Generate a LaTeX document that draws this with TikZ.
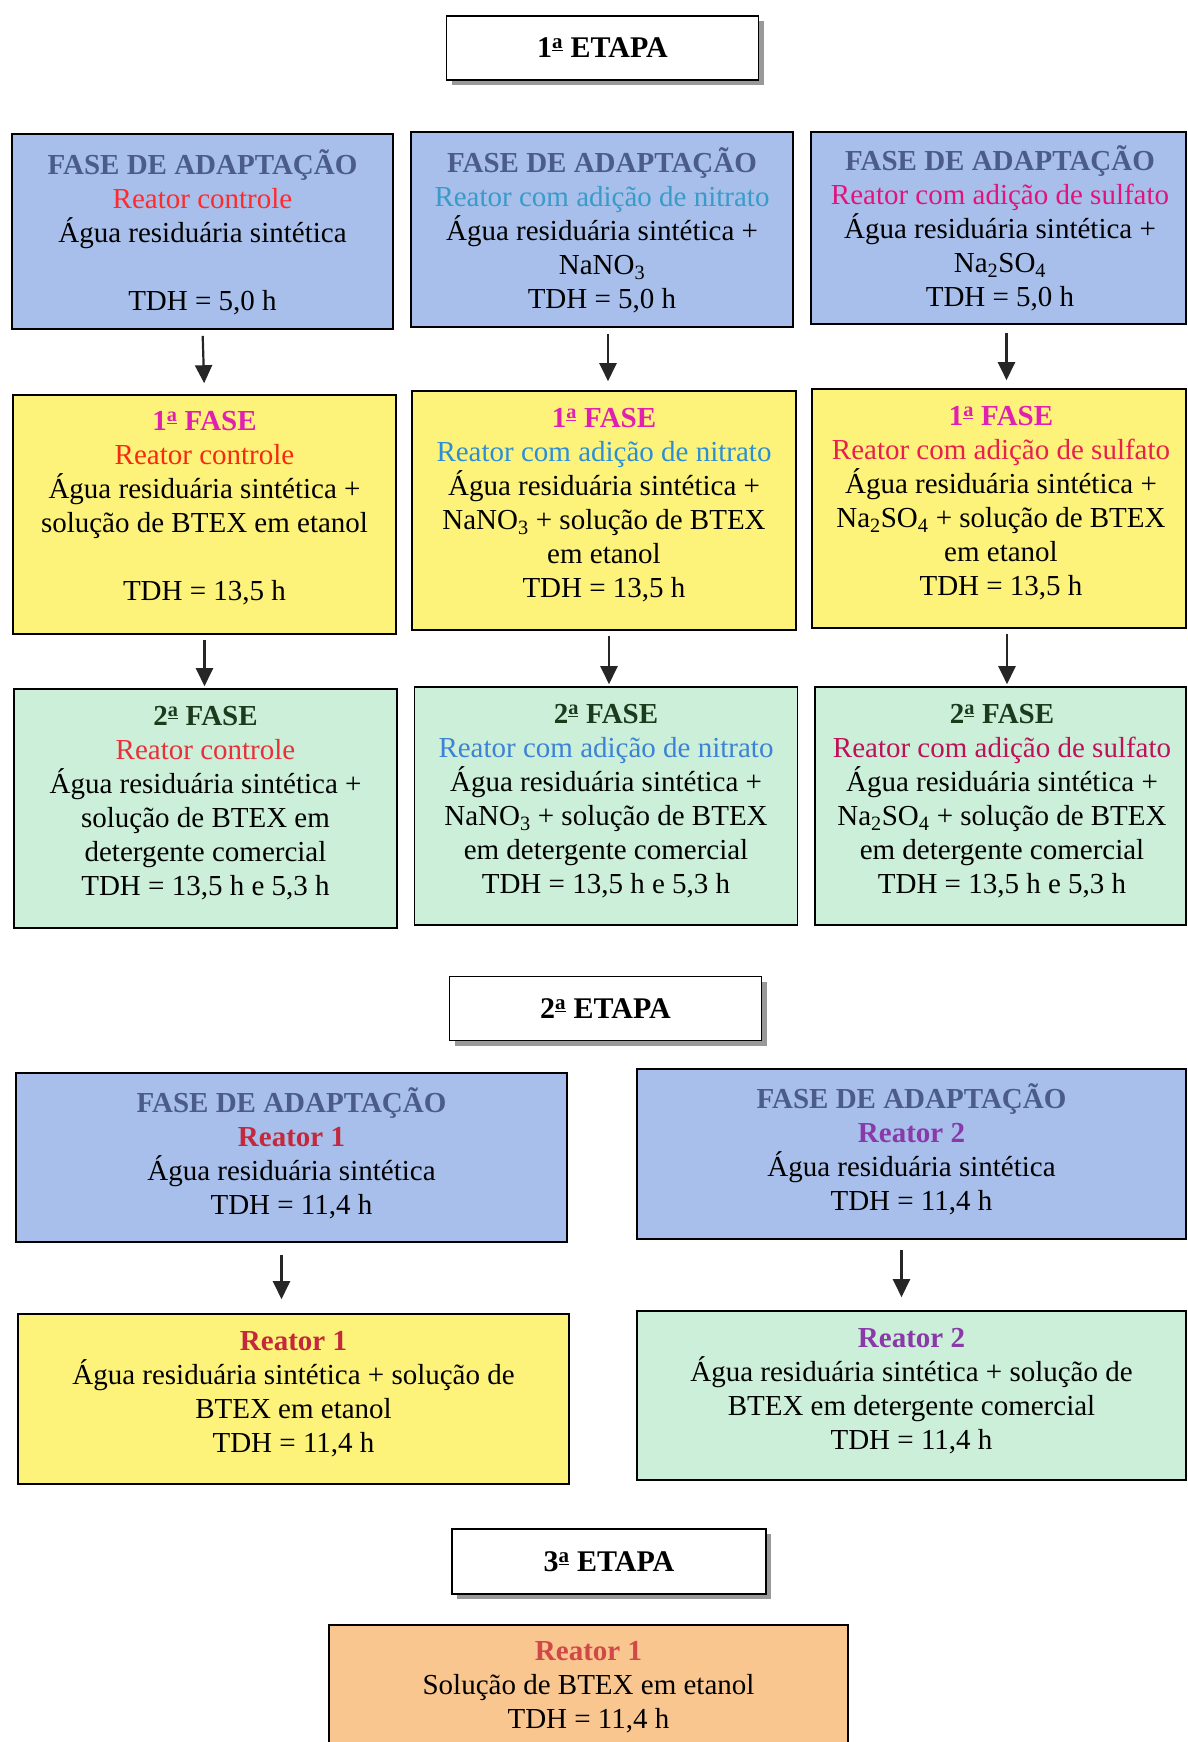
\documentclass[tikz,border=0pt]{standalone}
\usepackage{fontspec}
\setmainfont{Liberation Serif}
\usetikzlibrary{arrows.meta,shadows}
\definecolor{fblue}{HTML}{A7BFEA}
\definecolor{fyellow}{HTML}{FDF27A}
\definecolor{fgreen}{HTML}{CBEFD8}
\definecolor{forange}{HTML}{F8C68E}
\definecolor{hblue}{HTML}{4B5C8C}
\definecolor{redc}{HTML}{FF2A2A}
\definecolor{redy}{HTML}{F52A10}
\definecolor{redg}{HTML}{E8303A}
\definecolor{nitb}{HTML}{3A9AC8}
\definecolor{nity}{HTML}{2A8FD8}
\definecolor{nitg}{HTML}{3C82D6}
\definecolor{sulb}{HTML}{E0147A}
\definecolor{suly}{HTML}{E8204E}
\definecolor{sulg}{HTML}{C0105A}
\definecolor{magf}{HTML}{E020B0}
\definecolor{dgreen}{HTML}{1C3A1C}
\definecolor{reaone}{HTML}{C4283C}
\definecolor{reatwo}{HTML}{8A3AA8}
\definecolor{reaor}{HTML}{D04848}
\newcommand{\ordA}{\textsuperscript{\underline{a}}}
\begin{document}
\begin{tikzpicture}[x=1pt,y=-1pt,
  box/.style={draw=black,line width=1.6pt,inner sep=0pt},
  bluebox/.style={box,fill=fblue},
  yelbox/.style={box,fill=fyellow},
  grnbox/.style={box,fill=fgreen},
  orabox/.style={box,fill=forange},
  txt/.style={align=center,inner sep=0pt,font=\fontsize{29}{34}\selectfont},
  etapa/.style={draw=black,line width=1.8pt,fill=white,inner sep=0pt,
    minimum width=312pt,minimum height=64pt,
    font=\fontsize{30}{34}\selectfont\bfseries,
    drop shadow={shadow xshift=5pt,shadow yshift=-5pt,fill=black!40,opacity=1}},
  arr/.style={draw=black!85,line width=2.2pt,-{Triangle[length=18pt,width=17pt]}}
]
\clip (0,0) rectangle (1188,1742);
\fill[white] (0,0) rectangle (1188,1742);

% ---------- 1a ETAPA ----------
\node[etapa] (e1) at (602.5,48) {1\ordA{} ETAPA};

\node[bluebox,minimum width=381pt,minimum height=195pt] (bA) at (202.5,231.5) {};
\node[txt] (bAt) at (202.5,232) {\textbf{\textcolor{hblue}{FASE DE ADAPTAÇÃO}}\\ \textcolor{redc}{Reator controle}\\ Água residuária sintética\\[34pt] TDH = 5,0 h};

\node[bluebox,minimum width=382pt,minimum height=195pt] (bB) at (602,229.5) {};
\node[txt] (bBt) at (602,230) {\textbf{\textcolor{hblue}{FASE DE ADAPTAÇÃO}}\\ \textcolor{nitb}{Reator com adição de nitrato}\\ Água residuária sintética +\\ NaNO\textsubscript{3}\\ TDH = 5,0 h};

\node[bluebox,minimum width=375pt,minimum height=192pt] (bC) at (998.5,228) {};
\node[txt] (bCt) at (1000,228) {\textbf{\textcolor{hblue}{FASE DE ADAPTAÇÃO}}\\ \textcolor{sulb}{Reator com adição de sulfato}\\ Água residuária sintética +\\ Na\textsubscript{2}SO\textsubscript{4}\\ TDH = 5,0 h};

\node[yelbox,minimum width=383pt,minimum height=239pt] (yA) at (204.5,514.5) {};
\node[txt] (yAt) at (204.5,508) {\textbf{\textcolor{magf}{1\ordA{} FASE}}\\ \textcolor{redy}{Reator controle}\\ Água residuária sintética +\\ solução de BTEX em etanol\\[34pt] TDH = 13,5 h};

\node[yelbox,minimum width=384pt,minimum height=239pt] (yB) at (604,510.5) {};
\node[txt] (yBt) at (604,505) {\textbf{\textcolor{magf}{1\ordA{} FASE}}\\ \textcolor{nity}{Reator com adição de nitrato}\\ Água residuária sintética +\\ NaNO\textsubscript{3} + solução de BTEX\\ em etanol\\ TDH = 13,5 h};

\node[yelbox,minimum width=374pt,minimum height=239pt] (yC) at (999,508.5) {};
\node[txt] (yCt) at (1001,503) {\textbf{\textcolor{magf}{1\ordA{} FASE}}\\ \textcolor{suly}{Reator com adição de sulfato}\\ Água residuária sintética +\\ Na\textsubscript{2}SO\textsubscript{4} + solução de BTEX\\ em etanol\\ TDH = 13,5 h};

\node[grnbox,minimum width=383pt,minimum height=239pt] (gA) at (205.5,808.5) {};
\node[txt] (gAt) at (205.5,803) {\textbf{\textcolor{dgreen}{2\ordA{} FASE}}\\ \textcolor{redg}{Reator controle}\\ Água residuária sintética +\\ solução de BTEX em\\ detergente comercial\\ TDH = 13,5 h e 5,3 h};

\node[grnbox,minimum width=383pt,minimum height=238pt] (gB) at (606,806) {};
\node[txt] (gBt) at (606,801) {\textbf{\textcolor{dgreen}{2\ordA{} FASE}}\\ \textcolor{nitg}{Reator com adição de nitrato}\\ Água residuária sintética +\\ NaNO\textsubscript{3} + solução de BTEX\\ em detergente comercial\\ TDH = 13,5 h e 5,3 h};

\node[grnbox,minimum width=371pt,minimum height=238pt] (gC) at (1000.5,806) {};
\node[txt] (gCt) at (1002,801) {\textbf{\textcolor{dgreen}{2\ordA{} FASE}}\\ \textcolor{sulg}{Reator com adição de sulfato}\\ Água residuária sintética +\\ Na\textsubscript{2}SO\textsubscript{4} + solução de BTEX\\ em detergente comercial\\ TDH = 13,5 h e 5,3 h};

\draw[arr,shorten <=6pt,shorten >=11pt] (bA.south) -- (yA.north);
\draw[arr,shorten <=6pt,shorten >=9pt] ([xshift=6pt]bB.south) -- ([xshift=6pt]bB.south |- yB.north);
\draw[arr,shorten <=8pt,shorten >=8pt] ([xshift=8pt]bC.south) -- ([xshift=8pt]bC.south |- yC.north);
\draw[arr,shorten <=5pt,shorten >=2pt] (yA.south) -- (yA.south |- gA.north);
\draw[arr,shorten <=5pt,shorten >=2pt] ([xshift=5pt]yB.south) -- ([xshift=5pt]yB.south |- gB.north);
\draw[arr,shorten <=5pt,shorten >=2pt] ([xshift=8pt]yC.south) -- ([xshift=8pt]yC.south |- gC.north);

% ---------- 2a ETAPA ----------
\node[etapa] (e2) at (605.5,1008.5) {2\ordA{} ETAPA};

\node[bluebox,minimum width=551pt,minimum height=169pt] (bL) at (291.5,1157.5) {};
\node[txt] (bLt) at (291.5,1153) {\textbf{\textcolor{hblue}{FASE DE ADAPTAÇÃO}}\\ \textbf{\textcolor{reaone}{Reator 1}}\\ Água residuária sintética\\ TDH = 11,4 h};

\node[bluebox,minimum width=549pt,minimum height=170pt] (bR) at (911.5,1154) {};
\node[txt] (bRt) at (911.5,1149.5) {\textbf{\textcolor{hblue}{FASE DE ADAPTAÇÃO}}\\ \textbf{\textcolor{reatwo}{Reator 2}}\\ Água residuária sintética\\ TDH = 11,4 h};

\node[yelbox,minimum width=551pt,minimum height=170pt] (yL) at (293.5,1399) {};
\node[txt] (yLt) at (293.5,1394) {\textbf{\textcolor{reaone}{Reator 1}}\\ Água residuária sintética + solução de\\ BTEX em etanol\\ TDH = 11,4 h};

\node[grnbox,minimum width=549pt,minimum height=169pt] (gR) at (911.5,1395.5) {};
\node[txt] (gRt) at (911.5,1391) {\textbf{\textcolor{reatwo}{Reator 2}}\\ Água residuária sintética + solução de\\ BTEX em detergente comercial\\ TDH = 11,4 h};

\draw[arr,shorten <=12pt,shorten >=14pt] ([xshift=-10pt]bL.south) -- ([xshift=-10pt]bL.south |- yL.north);
\draw[arr,shorten <=10pt,shorten >=13pt] ([xshift=-10pt]bR.south) -- ([xshift=-10pt]bR.south |- gR.north);

% ---------- 3a ETAPA ----------
\node[etapa,minimum width=314pt,minimum height=65pt] (e3) at (609,1561.5) {3\ordA{} ETAPA};

\node[orabox,minimum width=519pt,minimum height=150pt] (oR) at (588.5,1700) {};
\node[txt] (oRt) at (588.5,1687) {\textbf{\textcolor{reaor}{Reator 1}}\\ Solução de BTEX em etanol\\ TDH = 11,4 h};
\end{tikzpicture}
\end{document}
